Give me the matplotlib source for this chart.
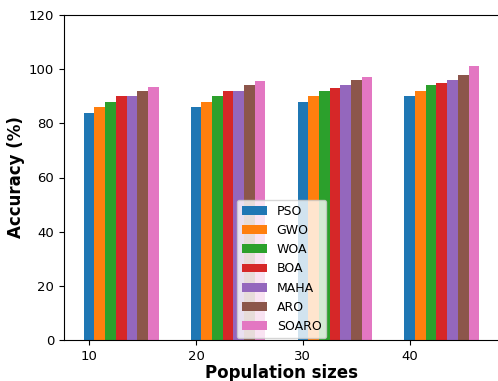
import numpy as np
import matplotlib
matplotlib.use('Agg')
import matplotlib.pyplot as plt

# Population sizes and accuracy of each algorithm
pop_sizes = [10, 20, 30, 40]
methods = ['PSO', 'GWO', 'WOA', 'BOA', 'MAHA', 'ARO', 'SOARO']
pso = [84, 86, 88, 90]
gwo = [86, 88, 90, 92]
woa = [88, 90, 92, 94]
boa = [90, 92, 93, 95]
maha = [90, 92, 94, 96]
aro = [92, 94, 96, 98]
soaro = [93.5, 95.5, 97, 101]

series = [pso, gwo, woa, boa, maha, aro, soaro]

fig = plt.figure(figsize=(4.98, 3.81), dpi=100)
ax = fig.add_axes([64 / 498, 41 / 381, 435 / 498, 325 / 381])

x = np.array(pop_sizes)
for i, (name, vals) in enumerate(zip(methods, series)):
    ax.bar(x + i, vals, width=1, label=name)

ax.set_ylim(0, 120)
ax.set_xticks(pop_sizes)
ax.tick_params(labelsize=9.5)
ax.set_xlabel('Population sizes', fontsize=12, fontweight='bold', labelpad=1)
ax.set_ylabel('Accuracy (%)', fontsize=12, fontweight='bold', labelpad=3)
ax.legend(loc='lower center', fontsize=9, borderaxespad=0.15)

plt.savefig('out.png', dpi=100)
